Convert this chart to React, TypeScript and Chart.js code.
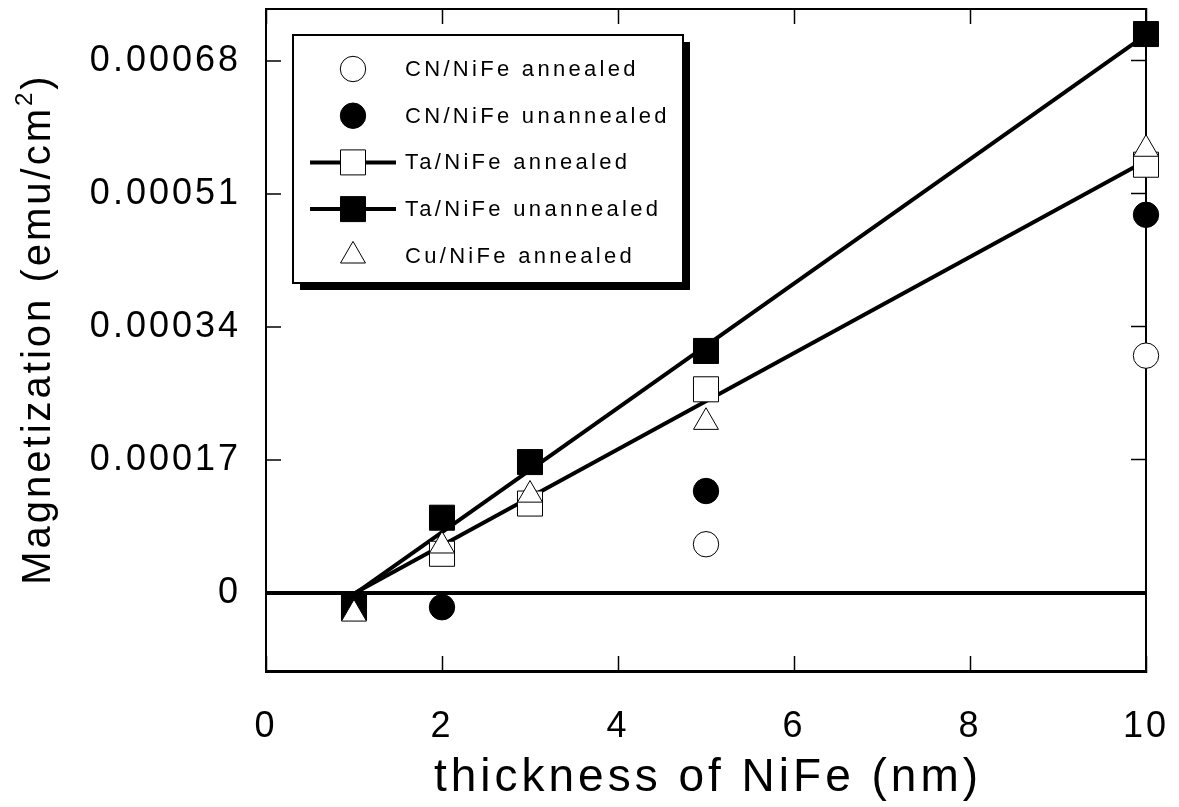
import React, { useEffect, useRef } from 'react';
import { Chart, registerables } from 'chart.js';

Chart.register(...registerables);

// ---- data ----
const thickness = [1, 2, 3, 5, 10];
const cnAnnealedX = [5, 10];
const cnAnnealed = [0.000062, 0.000303];
const cnUnannealedX = [2, 5, 10];
const cnUnannealed = [-0.0000185, 0.00013, 0.000483];
const taAnnealed = [-0.000019, 0.0000498, 0.000114, 0.00026, 0.000547];
const taUnannealed = [-0.000019, 0.0000959, 0.000167, 0.000309, 0.000714];
const cuAnnealed = [-0.000027, 0.00006, 0.000125, 0.000218, 0.000567];
const fitX = [1, 10];
const taAnnealedFit = [-0.000001, 0.000552];
const taUnannealedFit = [-0.000002, 0.000713];

const xTicks = [0, 2, 4, 6, 8, 10];
const yTicks = [0, 0.00017, 0.00034, 0.00051, 0.00068];
const yTickLabels = ['0', '0.00017', '0.00034', '0.00051', '0.00068'];

const seriesLabels = [
  'CN/NiFe annealed',
  'CN/NiFe unannealed',
  'Ta/NiFe annealed',
  'Ta/NiFe unannealed',
  'Cu/NiFe annealed',
];
const xTitle = 'thickness of NiFe (nm)';
const yTitleMain = 'Magnetization (emu/cm';
const yTitleSup = '2';
const yTitleEnd = ')';

const FONT = "'Liberation Sans', Arial, Helvetica, sans-serif";

const pts = (xs: number[], ys: number[]) => xs.map((x, i) => ({ x, y: ys[i] }));

const legendItems = [
  { label: seriesLabels[0], style: 'circle', fill: '#fff', line: false },
  { label: seriesLabels[1], style: 'circle', fill: '#000', line: false },
  { label: seriesLabels[2], style: 'rect', fill: '#fff', line: true },
  { label: seriesLabels[3], style: 'rect', fill: '#000', line: true },
  { label: seriesLabels[4], style: 'triangle', fill: '#fff', line: false },
];

function drawMarker(ctx: CanvasRenderingContext2D, style: string, x: number, y: number, fill: string) {
  ctx.save();
  ctx.fillStyle = fill;
  ctx.strokeStyle = '#000';
  ctx.lineWidth = 1;
  ctx.beginPath();
  if (style === 'circle') {
    ctx.arc(x, y, 12.7, 0, Math.PI * 2);
  } else if (style === 'rect') {
    const s = 12.5;
    ctx.rect(x - s, y - s, 2 * s, 2 * s);
  } else {
    const r = 14.4;
    let a = 0;
    ctx.moveTo(x + Math.sin(a) * r, y - Math.cos(a) * r);
    a += (2 * Math.PI) / 3;
    ctx.lineTo(x + Math.sin(a) * r, y - Math.cos(a) * r);
    a += (2 * Math.PI) / 3;
    ctx.lineTo(x + Math.sin(a) * r, y - Math.cos(a) * r);
    ctx.closePath();
  }
  ctx.fill();
  ctx.stroke();
  ctx.restore();
}

const customPlugin = {
  id: 'customText',
  beforeDraw(chart: any) {
    (chart.ctx as any).letterSpacing = '3px';
  },
  beforeDatasetsDraw(chart: any) {
    (chart.ctx as any).letterSpacing = '0px';
  },
  afterDraw(chart: any) {
    const ctx: any = chart.ctx;
    const area = chart.chartArea;
    ctx.save();
    ctx.fillStyle = '#000';

    // x title
    ctx.letterSpacing = '4px';
    ctx.font = `46px ${FONT}`;
    ctx.textAlign = 'center';
    ctx.textBaseline = 'middle';
    ctx.fillText(xTitle, (area.left + area.right) / 2 + 2, 778);

    // y title (rotated, with superscript)
    ctx.save();
    ctx.translate(50, 329);
    ctx.rotate(-Math.PI / 2);
    ctx.textAlign = 'left';
    ctx.textBaseline = 'alphabetic';
    ctx.letterSpacing = '3px';
    ctx.font = `40px ${FONT}`;
    const wMain = ctx.measureText(yTitleMain).width;
    const wEnd = ctx.measureText(yTitleEnd).width;
    ctx.font = `24px ${FONT}`;
    const wSup = ctx.measureText(yTitleSup).width;
    const total = wMain + wSup + wEnd;
    const x0 = -total / 2;
    ctx.font = `40px ${FONT}`;
    ctx.fillText(yTitleMain, x0, 0);
    ctx.font = `24px ${FONT}`;
    ctx.fillText(yTitleSup, x0 + wMain, -18);
    ctx.font = `40px ${FONT}`;
    ctx.fillText(yTitleEnd, x0 + wMain + wSup, 0);
    ctx.restore();

    // legend
    const L = { x: 293, y: 35, w: 390, h: 248, sh: 7 };
    ctx.fillStyle = '#000';
    ctx.fillRect(L.x + L.sh, L.y + L.sh, L.w, L.h);
    ctx.fillStyle = '#fff';
    ctx.fillRect(L.x, L.y, L.w, L.h);
    ctx.lineWidth = 2;
    ctx.strokeStyle = '#000';
    ctx.strokeRect(L.x, L.y, L.w, L.h);
    legendItems.forEach((it, i) => {
      const cy = 69 + i * 46.7;
      if (it.line) {
        ctx.beginPath();
        ctx.lineWidth = 4;
        ctx.strokeStyle = '#000';
        ctx.moveTo(310, cy);
        ctx.lineTo(396, cy);
        ctx.stroke();
      }
      drawMarker(ctx, it.style, 353, cy, it.fill);
      ctx.fillStyle = '#000';
      ctx.font = `22px ${FONT}`;
      ctx.letterSpacing = '3.3px';
      ctx.textAlign = 'left';
      ctx.textBaseline = 'middle';
      ctx.fillText(it.label, 405, cy + 1);
    });
    ctx.restore();
  },
};

export default function App() {
  const ref = useRef<HTMLCanvasElement>(null);
  useEffect(() => {
    const canvas = ref.current!;
    const markerCommon = {
      showLine: false,
      pointBorderColor: '#000',
      pointBorderWidth: 1,
      clip: false as any,
    };
    const noHPad = (s: any) => { s.paddingLeft = 0; s.paddingRight = 0; };
    const noVPad = (s: any) => { s.paddingTop = 0; s.paddingBottom = 0; };
    const chart = new Chart(canvas, {
      type: 'scatter',
      data: {
        datasets: [
          { ...markerCommon, label: seriesLabels[4], data: pts(thickness, cuAnnealed), pointStyle: 'triangle', pointRadius: 14.4, pointBackgroundColor: '#fff', order: 0 },
          { ...markerCommon, label: seriesLabels[3], data: pts(thickness, taUnannealed), pointStyle: 'rect', pointRadius: 17.7, pointBackgroundColor: '#000', order: 1 },
          { ...markerCommon, label: seriesLabels[2], data: pts(thickness, taAnnealed), pointStyle: 'rect', pointRadius: 17.7, pointBackgroundColor: '#fff', order: 2 },
          { ...markerCommon, label: seriesLabels[1], data: pts(cnUnannealedX, cnUnannealed), pointStyle: 'circle', pointRadius: 12.7, pointBackgroundColor: '#000', order: 3 },
          { ...markerCommon, label: seriesLabels[0], data: pts(cnAnnealedX, cnAnnealed), pointStyle: 'circle', pointRadius: 12.7, pointBackgroundColor: '#fff', order: 3 },
          { label: 'Ta/NiFe annealed fit', data: pts(fitX, taAnnealedFit), showLine: true, borderColor: '#000', borderWidth: 4, pointRadius: 0, order: 5, clip: false as any },
          { label: 'Ta/NiFe unannealed fit', data: pts(fitX, taUnannealedFit), showLine: true, borderColor: '#000', borderWidth: 4, pointRadius: 0, order: 5, clip: false as any },
        ] as any,
      },
      options: {
        responsive: false,
        animation: false,
        devicePixelRatio: 1,
        events: [],
        layout: { padding: 0, autoPadding: false },
        plugins: { legend: { display: false }, tooltip: { enabled: false }, title: { display: false } },
        scales: {
          x: {
            type: 'linear',
            position: 'bottom',
            min: 0,
            max: 10,
            afterBuildTicks: (s: any) => { s.ticks = xTicks.map((v) => ({ value: v })); },
            afterFit: (s: any) => { s.height = 136; noHPad(s); },
            border: { display: true, color: '#000', width: 3 },
            grid: { drawOnChartArea: false, drawTicks: true, tickLength: -15, tickColor: '#000', tickWidth: 1.5 },
            ticks: { color: '#000', font: { family: FONT, size: 36 }, padding: 49, maxRotation: 0, autoSkip: false },
          },
          x2: {
            type: 'linear',
            position: 'top',
            min: 0,
            max: 10,
            afterBuildTicks: (s: any) => { s.ticks = xTicks.map((v) => ({ value: v })); },
            afterFit: (s: any) => { s.height = 9; noHPad(s); },
            border: { display: true, color: '#000', width: 2 },
            grid: { drawOnChartArea: false, drawTicks: true, tickLength: -15, tickColor: '#000', tickWidth: 1.5 },
            ticks: { display: false },
          },
          y: {
            type: 'linear',
            position: 'left',
            min: -0.0001,
            max: 0.000746,
            afterBuildTicks: (s: any) => { s.ticks = yTicks.map((v) => ({ value: v })); },
            afterFit: (s: any) => { s.width = 266; noVPad(s); },
            border: { display: true, color: '#000', width: 2 },
            grid: {
              drawOnChartArea: true,
              drawTicks: true,
              tickLength: -15,
              tickColor: '#000',
              tickWidth: 1.5,
              color: (c: any) => (c.tick && c.tick.value === 0 ? '#000' : 'rgba(0,0,0,0)'),
              lineWidth: (c: any) => (c.tick && c.tick.value === 0 ? 4 : 0),
            },
            ticks: {
              color: '#000',
              font: { family: FONT, size: 36 },
              padding: 40,
              autoSkip: false,
              callback: (_v: any, i: number) => yTickLabels[i],
            },
          },
          y2: {
            type: 'linear',
            position: 'right',
            min: -0.0001,
            max: 0.000746,
            afterBuildTicks: (s: any) => { s.ticks = yTicks.map((v) => ({ value: v })); },
            afterFit: (s: any) => { s.width = 33; noVPad(s); },
            border: { display: true, color: '#000', width: 2 },
            grid: { drawOnChartArea: false, drawTicks: true, tickLength: -15, tickColor: '#000', tickWidth: 1.5 },
            ticks: { display: false },
          },
        },
      } as any,
      plugins: [customPlugin],
    });
    return () => chart.destroy();
  }, []);
  return (
    <canvas
      ref={ref}
      width={1179}
      height={807}
      style={{ position: 'absolute', left: 0, top: 0, width: 1179, height: 807, display: 'block' }}
    />
  );
}
